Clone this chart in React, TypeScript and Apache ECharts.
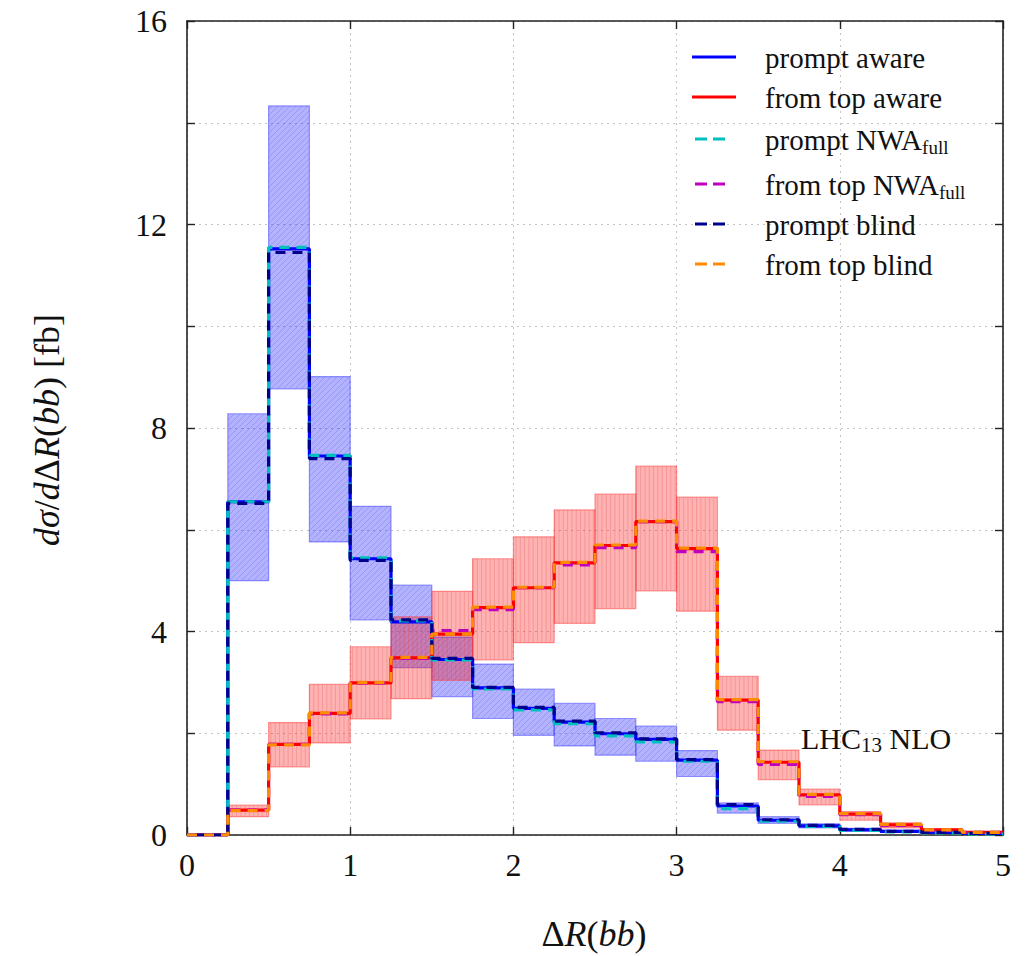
import React, { useEffect, useRef } from 'react';
import * as echarts from 'echarts';

const FONT = "'Liberation Serif', 'Times New Roman', serif";
const BIN_W = 0.25;
const X_MAX = 5;

// lower edges of the Delta R(bb) bins
const binLo = [0, 0.25, 0.5, 0.75, 1, 1.25, 1.5, 1.75, 2, 2.25, 2.5, 2.75, 3, 3.25, 3.5, 3.75, 4, 4.25, 4.5, 4.75];

// prompt b-jets
const promptAware = [0, 6.55, 11.52, 7.45, 5.43, 4.19, 3.45, 2.89, 2.49, 2.22, 1.99, 1.88, 1.47, 0.57, 0.29, 0.18, 0.10, 0.07, 0.05, 0.03];
const promptLo = [0, 5.0, 8.77, 5.76, 4.23, 3.29, 2.72, 2.29, 1.96, 1.75, 1.57, 1.45, 1.15, 0.43, 0.23, 0.14, 0.08, 0.05, 0.03, 0.02];
const promptHi = [0, 8.28, 14.33, 9.01, 6.46, 4.91, 3.89, 3.36, 2.87, 2.59, 2.29, 2.14, 1.66, 0.63, 0.36, 0.22, 0.13, 0.09, 0.06, 0.04];
const promptNWA = [0, 6.55, 11.55, 7.46, 5.45, 4.21, 3.44, 2.87, 2.46, 2.19, 1.95, 1.83, 1.45, 0.52, 0.27, 0.17, 0.09, 0.06, 0.04, 0.02];
const promptBlind = [0, 6.52, 11.45, 7.40, 5.40, 4.23, 3.47, 2.90, 2.51, 2.24, 2.01, 1.89, 1.48, 0.60, 0.30, 0.19, 0.11, 0.07, 0.05, 0.03];

// b-jets from top decays
const topAware = [0, 0.49, 1.78, 2.39, 2.99, 3.48, 3.95, 4.47, 4.86, 5.35, 5.69, 6.16, 5.63, 2.65, 1.43, 0.79, 0.41, 0.20, 0.10, 0.05];
const topLo = [0, 0.36, 1.34, 1.81, 2.28, 2.68, 3.04, 3.44, 3.78, 4.16, 4.45, 4.80, 4.40, 2.06, 1.09, 0.59, 0.29, 0.14, 0.07, 0.03];
const topHi = [0, 0.59, 2.21, 2.96, 3.70, 4.29, 4.79, 5.43, 5.86, 6.39, 6.70, 7.25, 6.64, 3.12, 1.67, 0.90, 0.46, 0.24, 0.12, 0.06];
const topNWA = [0, 0.49, 1.78, 2.38, 2.99, 3.47, 4.02, 4.43, 4.86, 5.31, 5.65, 6.16, 5.57, 2.62, 1.39, 0.76, 0.40, 0.19, 0.09, 0.05];
const topBlind = [0, 0.48, 1.77, 2.40, 3.00, 3.49, 3.95, 4.48, 4.87, 5.36, 5.70, 6.17, 5.64, 2.66, 1.44, 0.80, 0.42, 0.21, 0.10, 0.05];

const legendItems = [
  { text: 'prompt aware', color: '#0000ff', dashed: false },
  { text: 'from top aware', color: '#ff0000', dashed: false },
  { text: 'prompt NWA{sub|full}', color: '#00bfbf', dashed: true },
  { text: 'from top NWA{sub|full}', color: '#bf00bf', dashed: true },
  { text: 'prompt blind', color: '#00008b', dashed: true },
  { text: 'from top blind', color: '#ff8c00', dashed: true },
];

function stepData(vals: number[]) {
  const pts: number[][] = binLo.map((x, i) => [x, vals[i]]);
  pts.push([X_MAX, vals[vals.length - 1]]);
  return pts;
}

function bandData(lo: number[], hi: number[]) {
  return binLo.map((x, i) => [x, lo[i], hi[i]]).filter((d) => d[2] > d[1]);
}

function makeBandRenderer(fill: string, stroke: string, hatchColor: string, hatch: 'diag' | 'vert', spacing: number) {
  return (params: any, api: any) => {
    const x0 = api.value(0) as number;
    const lo = api.value(1) as number;
    const hi = api.value(2) as number;
    const a = api.coord([x0, hi]);
    const b = api.coord([x0 + BIN_W, lo]);
    const x = a[0];
    const y = a[1];
    const w = b[0] - a[0];
    const h = b[1] - a[1];
    const children: any[] = [
      { type: 'rect', shape: { x, y, width: w, height: h }, style: { fill, stroke, lineWidth: 1.2 } },
    ];
    const hs = { stroke: hatchColor, lineWidth: 0.7 };
    if (hatch === 'vert') {
      for (let hx = Math.ceil(x / spacing) * spacing; hx < x + w - 0.5; hx += spacing) {
        children.push({ type: 'line', shape: { x1: hx, y1: y, x2: hx, y2: y + h }, style: hs });
      }
    } else {
      const start = Math.ceil((x + y) / spacing) * spacing;
      for (let c = start; c < x + w + y + h; c += spacing) {
        const xs = Math.max(x, c - (y + h));
        const xe = Math.min(x + w, c - y);
        if (xe > xs + 0.3) {
          children.push({ type: 'line', shape: { x1: xs, y1: c - xs, x2: xe, y2: c - xe }, style: hs });
        }
      }
    }
    return { type: 'group', children };
  };
}

function lineSeries(name: string, vals: number[], color: string, dashed: boolean, z: number, offset = 0) {
  return {
    name,
    type: 'line',
    data: stepData(vals),
    step: 'end',
    symbol: 'none',
    silent: true,
    z,
    lineStyle: {
      color,
      width: 3.2,
      type: dashed ? [10, 7] : 'solid',
      dashOffset: offset,
      cap: 'butt',
    },
  };
}

const axisLine = { show: true, onZero: false, lineStyle: { color: '#222', width: 1.6 } };
const axisTick = { show: true, inside: true, length: 8, lineStyle: { color: '#222', width: 1.4 } };
const dotted = { show: true, lineStyle: { color: '#c4c4c4', type: [2, 4], width: 1 } };

function buildOption() {
  const graphic: any[] = [];
  const rowY = [57, 97, 139, 184, 224, 264];
  legendItems.forEach((it, i) => {
    const y = rowY[i];
    graphic.push({
      type: 'line',
      shape: it.dashed ? { x1: 695, y1: y, x2: 725, y2: y } : { x1: 692, y1: y, x2: 736, y2: y },
      style: { stroke: it.color, lineWidth: 3, lineDash: it.dashed ? [12, 6] : null },
      z: 10,
    });
    graphic.push({
      type: 'text',
      x: 765,
      y: y + 1,
      z: 10,
      style: {
        text: it.text,
        fontFamily: FONT,
        fontSize: 29,
        fill: '#111',
        textAlign: 'left',
        textVerticalAlign: 'middle',
        rich: {
          sub: { fontSize: 19, fontFamily: FONT, fill: '#111', padding: [15, 0, 0, 0] },
        },
      },
    });
  });
  // annotation
  graphic.push({
    type: 'text',
    x: 801,
    y: 738,
    z: 10,
    style: {
      text: 'LHC{sub|13} NLO',
      fontFamily: FONT,
      fontSize: 30,
      fill: '#111',
      textAlign: 'left',
      textVerticalAlign: 'middle',
      rich: { sub: { fontSize: 21, fontFamily: FONT, fill: '#111', padding: [14, 0, 0, 0] } },
    },
  });
  const richBase = {
    i: { fontFamily: FONT, fontSize: 36, fontStyle: 'italic', fill: '#111' },
    n: { fontFamily: FONT, fontSize: 36, fill: '#111' },
  };
  // x axis title
  graphic.push({
    type: 'text',
    x: 594,
    y: 934,
    style: {
      text: '{n|Δ}{i|R}{n|(}{i|bb}{n|)}',
      textAlign: 'center',
      textVerticalAlign: 'middle',
      rich: richBase,
    },
  });
  // y axis title
  graphic.push({
    type: 'text',
    x: 47,
    y: 430,
    rotation: Math.PI / 2,
    style: {
      text: '{i|dσ}{n|/}{i|d}{n|Δ}{i|R}{n|(}{i|bb}{n|) [fb]}',
      textAlign: 'center',
      textVerticalAlign: 'middle',
      rich: richBase,
    },
  });

  return {
    animation: false,
    backgroundColor: '#ffffff',
    grid: { left: 187, right: 25, top: 21, bottom: 121, containLabel: false },
    xAxis: [
      {
        type: 'value',
        min: 0,
        max: X_MAX,
        interval: 1,
        position: 'bottom',
        axisLine,
        axisTick,
        axisLabel: { fontSize: 32, fontFamily: FONT, color: '#111', margin: 14 },
        splitLine: dotted,
      },
      {
        type: 'value',
        min: 0,
        max: X_MAX,
        interval: 1,
        position: 'top',
        axisLine,
        axisTick,
        axisLabel: { show: false },
        splitLine: { show: false },
      },
    ],
    yAxis: [
      {
        type: 'value',
        min: 0,
        max: 16,
        interval: 2,
        position: 'left',
        axisLine,
        axisTick,
        axisLabel: {
          fontSize: 32,
          fontFamily: FONT,
          color: '#111',
          margin: 20,
          formatter: (v: number) => (v % 4 === 0 ? String(v) : ''),
        },
        splitLine: dotted,
      },
      {
        type: 'value',
        min: 0,
        max: 16,
        interval: 2,
        position: 'right',
        axisLine,
        axisTick,
        axisLabel: { show: false },
        splitLine: { show: false },
      },
    ],
    series: [
      {
        name: 'prompt band',
        type: 'custom',
        silent: true,
        z: 1,
        data: bandData(promptLo, promptHi),
        encode: { x: 0, y: [1, 2] },
        renderItem: makeBandRenderer('rgba(0,0,255,0.3)', 'rgba(60,60,255,0.5)', 'rgba(60,60,200,0.3)', 'diag', 6),
      },
      {
        name: 'from top band',
        type: 'custom',
        silent: true,
        z: 1,
        data: bandData(topLo, topHi),
        encode: { x: 0, y: [1, 2] },
        renderItem: makeBandRenderer('rgba(255,0,0,0.3)', 'rgba(255,60,60,0.5)', 'rgba(210,60,60,0.32)', 'vert', 4.3),
      },
      lineSeries('prompt aware', promptAware, '#0000ff', false, 3),
      lineSeries('from top aware', topAware, '#ff0000', false, 3),
      lineSeries('prompt NWA full', promptNWA, '#00bfbf', true, 4, 0),
      lineSeries('from top NWA full', topNWA, '#bf00bf', true, 4, 0),
      lineSeries('prompt blind', promptBlind, '#00008b', true, 5, 8.5),
      lineSeries('from top blind', topBlind, '#ff8c00', true, 5, 0),
    ],
    graphic,
  };
}

export default function App() {
  const ref = useRef<HTMLDivElement>(null);
  useEffect(() => {
    document.body.style.margin = '0';
    const chart = echarts.init(ref.current as HTMLDivElement, null, { renderer: 'svg' });
    chart.setOption(buildOption() as any);
    return () => {
      chart.dispose();
    };
  }, []);
  return <div ref={ref} style={{ width: 1028, height: 956 }} />;
}
